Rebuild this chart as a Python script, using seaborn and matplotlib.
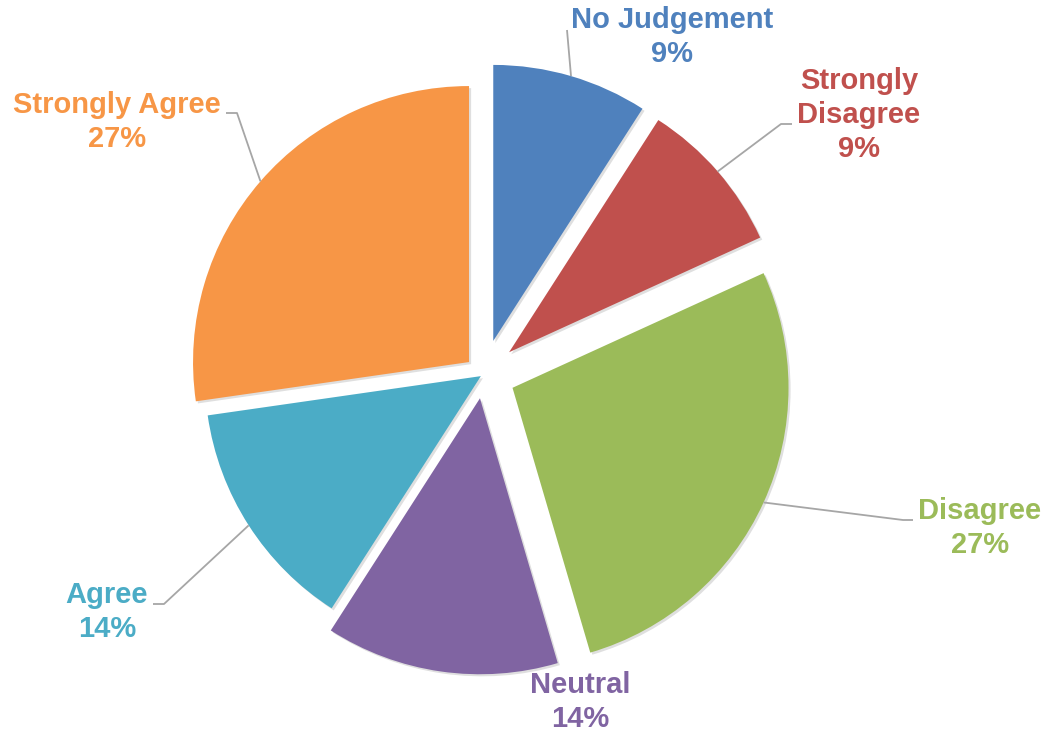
import numpy as np
import matplotlib
matplotlib.use("Agg")
import matplotlib.pyplot as plt
import matplotlib.patheffects as pe
import seaborn as sns

# Survey responses (22 respondents), clockwise from 12 o'clock
categories = ["No Judgement", "Strongly\nDisagree", "Disagree", "Neutral", "Agree", "Strongly Agree"]
counts = [2, 2, 6, 3, 3, 6]
colors = ["#4F81BD", "#C0504D", "#9BBB59", "#8064A2", "#4BACC6", "#F79646"]

sns.set_theme(style="white")
plt.rcParams["font.family"] = ["Liberation Sans", "DejaVu Sans"]

W, H = 1049, 733
fig = plt.figure(figsize=(W / 100, H / 100), dpi=100)
ax = fig.add_axes([0, 0, 1, 1])

def px(x, y):
    """Pixel position (origin top-left) to axes data coordinates."""
    return x, H - y

center = px(483.4, 374.5)
radius = 276
explode = [35, 34, 32, 24, 3, 19]

wedges, _ = ax.pie(counts, colors=colors, startangle=90, counterclock=False,
                   radius=radius, center=center, explode=explode,
                   wedgeprops=dict(linewidth=0))
for w in wedges:
    w.set_path_effects([pe.SimplePatchShadow(offset=(1.5, -1.5), shadow_rgbFace="#808080", alpha=0.25),
                        pe.Normal()])

# pie() resets the limits, so fix the pixel-sized frame afterwards
ax.set_xlim(0, W)
ax.set_ylim(0, H)
ax.set_aspect("equal")
ax.axis("off")

total = sum(counts)
pcts = [f"{c / total * 100:.0f}%" for c in counts]

# label placement (pixel space) and leader-line bends
label_pos = [(672, 37), (859, 115), (980, 528), (580, 702), (107, 612), (117, 122)]
leader_pts = [
    [(567, 30)],
    [(781, 124), (792, 124)],
    [(903, 520), (913, 520)],
    [],
    [(164, 604), (153, 604)],
    [(237, 113), (226, 113)],
]

for w, cat, pct, col, lp, pts, ex in zip(wedges, categories, pcts, colors, label_pos, leader_pts, explode):
    mid = np.deg2rad((w.theta1 + w.theta2) / 2)
    if pts:
        sx = center[0] + (radius + ex) * np.cos(mid)
        sy = center[1] + (radius + ex) * np.sin(mid)
        xs = [sx] + [px(*p)[0] for p in pts]
        ys = [sy] + [px(*p)[1] for p in pts]
        ax.plot(xs, ys, color="#A6A6A6", lw=1.3, solid_capstyle="butt", zorder=1)
    tx, ty = px(*lp)
    ax.text(tx, ty, f"{cat}\n{pct}", color=col, fontsize=21, fontweight="bold",
            ha="center", va="center", multialignment="center", linespacing=1.26)

fig.savefig("out.png", dpi=100)
